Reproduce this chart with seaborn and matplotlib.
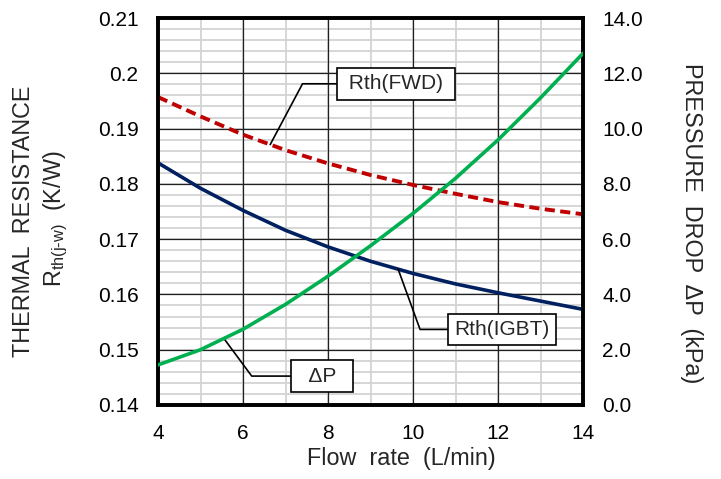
import numpy as np
import matplotlib
matplotlib.use('Agg')
import matplotlib.pyplot as plt
import seaborn as sns
from matplotlib.ticker import MultipleLocator, FixedLocator, NullFormatter

# ---- data ----
flow = [4, 5, 6, 7, 8, 9, 10, 11, 12, 13, 14]
rth_igbt = [0.1838, 0.1792, 0.1752, 0.1716, 0.1686, 0.1660, 0.1638, 0.1619, 0.1603, 0.1588, 0.1573]
rth_fwd = [0.1957, 0.1922, 0.1889, 0.1861, 0.1837, 0.1816, 0.1798, 0.1782, 0.1767, 0.1755, 0.1745]
dp = [1.45, 2.00, 2.74, 3.64, 4.66, 5.76, 6.93, 8.20, 9.59, 11.11, 12.72]

x_ticks = [4, 6, 8, 10, 12, 14]
left_ticks = [0.14, 0.15, 0.16, 0.17, 0.18, 0.19, 0.20, 0.21]
left_labels = ['0.14', '0.15', '0.16', '0.17', '0.18', '0.19', '0.2', '0.21']
right_ticks = [0, 2, 4, 6, 8, 10, 12, 14]
right_labels = ['0.0', '2.0', '4.0', '6.0', '8.0', '10.0', '12.0', '14.0']

# ---- style ----
sns.set_theme(style='white')
plt.rcParams['font.family'] = ['Liberation Sans', 'DejaVu Sans']
plt.rcParams['mathtext.fontset'] = 'custom'
plt.rcParams['mathtext.rm'] = 'Liberation Sans'
plt.rcParams['mathtext.it'] = 'Liberation Sans'

NAVY = '#002060'
RED = '#C00000'
GREEN = '#00B050'

W, H = 721, 479
rect = [158 / W, 1 - 405 / H, 425 / W, 387 / H]
fig = plt.figure(figsize=(W / 100, H / 100), dpi=100)
fig.patch.set_facecolor('white')

# background axes: light minor grid only
ax_bg = fig.add_axes(rect)
ax_bg.set_xlim(4, 14)
ax_bg.set_ylim(0.14, 0.21)
ax_bg.xaxis.set_major_locator(FixedLocator([]))
ax_bg.yaxis.set_major_locator(FixedLocator([]))
ax_bg.xaxis.set_minor_locator(MultipleLocator(1))
ax_bg.yaxis.set_minor_locator(MultipleLocator(0.002))
ax_bg.xaxis.set_minor_formatter(NullFormatter())
ax_bg.yaxis.set_minor_formatter(NullFormatter())
ax_bg.tick_params(which='both', length=0)
ax_bg.grid(which='minor', color='#D3D3D3', lw=1.3)
for s in ax_bg.spines.values():
    s.set_visible(False)

# main axes: dark major grid + data
ax = fig.add_axes(rect)
ax.patch.set_visible(False)
ax2 = ax.twinx()

sns.lineplot(x=flow, y=rth_igbt, ax=ax, color=NAVY, lw=2.6, zorder=3)
sns.lineplot(x=flow, y=rth_fwd, ax=ax, color=RED, lw=2.8,
             linestyle=(0, (2.6, 1.4)), zorder=3)
sns.lineplot(x=flow, y=dp, ax=ax2, color=GREEN, lw=2.6, zorder=3)

ax.set_xlim(4, 14)
ax.set_ylim(0.14, 0.21)
ax2.set_ylim(0, 14)

ax.xaxis.set_major_locator(FixedLocator(x_ticks))
ax.set_xticklabels([str(v) for v in x_ticks])
ax.yaxis.set_major_locator(FixedLocator(left_ticks))
ax.set_yticklabels(left_labels)
ax2.yaxis.set_major_locator(FixedLocator(right_ticks))
ax2.set_yticklabels(right_labels)

ax.set_axisbelow(True)
ax.grid(which='major', color='#202020', lw=0.9)
ax2.grid(False)

for a in (ax, ax2):
    a.tick_params(which='both', length=0, pad=14, labelsize=15, colors='black')
    for s in a.spines.values():
        s.set_color('black')
        s.set_linewidth(2.6)
    a.set_xlabel('')
    a.set_ylabel('')

# ---- axis titles ----
LBL = 16.8
fig.text(23.5 / W, 1 - 221 / H, 'THERMAL  RESISTANCE', rotation=90,
         ha='center', va='center', fontsize=LBL)
fig.text(56 / W, 1 - 219 / H, r'R$_{\mathregular{th(j\text{-}w)}}$  (K/W)', rotation=90,
         ha='center', va='center', fontsize=LBL)
fig.text(692 / W, 1 - 223.5 / H, 'PRESSURE  DROP  ΔP  (kPa)', rotation=-90,
         ha='center', va='center', fontsize=LBL)
fig.text(401.5 / W, 1 - 465 / H, 'Flow  rate  (L/min)',
         ha='center', va='baseline', fontsize=LBL)

# ---- callouts ----
box = dict(boxstyle='square,pad=0.3', fc='white', ec='black', lw=1.2)

def callout(text, x_pt, y_pt, x_box, y_box, angleB):
    ax.annotate(text, xy=(x_pt, y_pt), xytext=(x_box, y_box),
                xycoords='data', textcoords='data',
                ha='center', va='center', fontsize=15, bbox=box, zorder=6,
                arrowprops=dict(arrowstyle='-', color='black', lw=1.2,
                                shrinkA=0, shrinkB=0,
                                connectionstyle=f'angle,angleA=0,angleB={angleB},rad=0'))

callout(' Rth(FWD) ', 6.64, np.interp(6.64, flow, rth_fwd), 9.6, 0.1981, 62)
callout('Rth(IGBT)', 9.65, np.interp(9.65, flow, rth_igbt), 12.09, 0.15367, 110)
# ΔP point expressed on the left axis scale
dp_x = 5.55
dp_y_left = 0.14 + np.interp(dp_x, flow, dp) / 14 * 0.07
callout('  ΔP  ', dp_x, dp_y_left, 7.87, 0.14523, -53.5)

fig.savefig('out.png', dpi=100, facecolor='white')
